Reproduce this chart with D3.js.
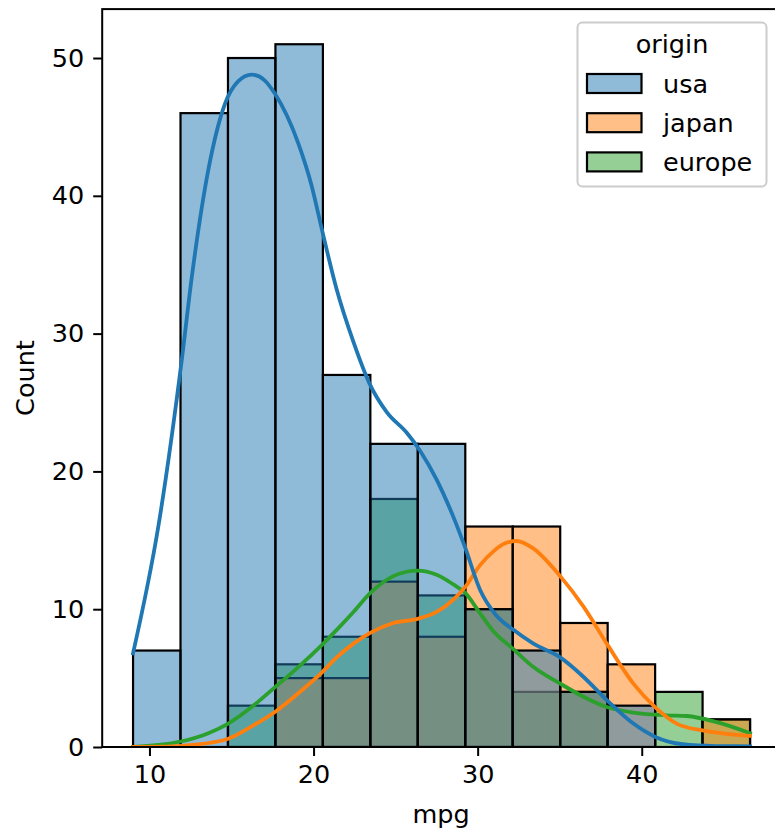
<!DOCTYPE html>
<html>
<head>
<meta charset="utf-8">
<script src="https://cdn.jsdelivr.net/npm/d3@7"></script>
<style>
  html, body { margin: 0; padding: 0; background: #fff; }
  svg text { font-family: "DejaVu Sans", sans-serif; fill: #000; }
</style>
</head>
<body>
<div id="chart"></div>
<script>
// ---------- data ----------
const binStart = 9.0;
const binEnd = 46.6;
const nBins = 13;
const seriesNames = ["usa", "japan", "europe"];
const seriesColors = ["#1f77b4", "#ff7f0e", "#2ca02c"];
const usaCounts    = [7, 46, 50, 51, 27, 22, 22, 10, 7, 4, 3, 0, 0];
const japanCounts  = [0, 0, 0, 5, 5, 12, 8, 16, 16, 9, 6, 0, 2];
const europeCounts = [0, 0, 3, 6, 8, 18, 11, 10, 4, 4, 0, 4, 2];
const xTicks = [10, 20, 30, 40];
const yTicks = [0, 10, 20, 30, 40, 50];
// KDE curves: [mpg, count]
const usaKde = [[9,6.8],[10.54,16.0],[11.97,28.1],[12.58,34.1],[13.59,41.9],[14.61,46.7],[15.4,48.3],[16.23,48.8],[17.0,48.4],[17.65,47.4],[19.07,43.8],[19.89,40.7],[20.5,37.6],[21.41,33.2],[22.43,29.4],[23.44,26.3],[24.46,24.3],[25.68,22.8],[26.49,21.5],[27.5,19.4],[28.52,16.7],[29.23,14.5],[30.15,11.4],[31.1,9.6],[32.18,8.5],[33.4,7.5],[35.03,6.5],[36.44,5.1],[37.87,3.4],[39.49,1.7],[40.8,0.75],[42.5,0.2],[44.5,0.07],[46.6,0.05]];
const japanKde = [[9,0.0],[11,0.02],[12.6,0.15],[14.8,0.6],[16.23,1.5],[17.71,2.6],[19.07,3.9],[20.5,5.4],[21.41,6.5],[22.43,7.5],[23.48,8.3],[24.86,9.0],[26.35,9.3],[27.5,9.8],[28.52,10.7],[29.23,11.6],[30.15,13.2],[30.96,14.2],[31.7,14.8],[32.38,14.95],[33.4,14.4],[35.03,12.4],[36.44,10.2],[37.87,7.5],[39.49,4.6],[40.81,2.9],[42.13,1.7],[43.69,1.2],[45.2,0.95],[46.6,0.8]];
const europeKde = [[9,0.0],[10.5,0.15],[11.9,0.4],[13.59,1.0],[14.8,1.7],[16.23,2.9],[17.71,4.4],[19.07,5.8],[20.5,7.4],[21.41,8.5],[22.43,9.8],[23.48,11.2],[24.86,12.4],[25.6,12.7],[26.35,12.8],[27.5,12.5],[28.52,11.8],[29.23,11.2],[30.15,9.7],[30.96,8.4],[32.18,7.1],[33.4,5.8],[35.03,4.6],[36.44,3.65],[37.87,2.9],[39.49,2.5],[41.5,2.3],[42.75,2.25],[44.57,1.8],[46.6,1.0]];

const countsBySeries = [usaCounts, japanCounts, europeCounts];
const kdeBySeries = [usaKde, japanKde, europeKde];

// ---------- layout ----------
const W = 775, H = 833;
const plotLeft = 102.2, plotRight = 780.9, plotTop = 9.1, plotBottom = 747;
const FS = 25.5;

const binW = (binEnd - binStart) / nBins;
const bins = d3.range(nBins).map(i => [binStart + i * binW, binStart + (i + 1) * binW]);
const xPad = (binEnd - binStart) * 0.05;
const yMax = d3.max(countsBySeries.flat()) * 1.05;

const x = d3.scaleLinear().domain([binStart - xPad, binEnd + xPad]).range([plotLeft, plotRight]);
const y = d3.scaleLinear().domain([0, yMax]).range([plotBottom, plotTop]);

const svg = d3.select("#chart").append("svg")
  .attr("width", W).attr("height", H)
  .attr("viewBox", `0 0 ${W} ${H}`);

svg.append("rect").attr("width", W).attr("height", H).attr("fill", "#fff");

svg.append("defs").append("clipPath").attr("id", "plotclip")
  .append("rect").attr("x", plotLeft).attr("y", plotTop)
  .attr("width", plotRight - plotLeft).attr("height", plotBottom - plotTop);

const plot = svg.append("g").attr("clip-path", "url(#plotclip)");

// bars: draw europe, japan, usa (usa on top)
const drawOrder = [2, 1, 0];
drawOrder.forEach(si => {
  const data = bins.map((b, i) => ({ x0: b[0], x1: b[1], c: countsBySeries[si][i] })).filter(d => d.c > 0);
  plot.append("g").selectAll("rect").data(data).join("rect")
    .attr("x", d => x(d.x0))
    .attr("y", d => y(d.c))
    .attr("width", d => x(d.x1) - x(d.x0))
    .attr("height", d => y(0) - y(d.c))
    .attr("fill", seriesColors[si])
    .attr("fill-opacity", 0.5)
    .attr("stroke", "#000")
    .attr("stroke-width", 2.2);
});

// kde lines
const line = d3.line().x(d => x(d[0])).y(d => y(d[1])).curve(d3.curveMonotoneX);
drawOrder.forEach(si => {
  plot.append("path").datum(kdeBySeries[si])
    .attr("d", line)
    .attr("fill", "none")
    .attr("stroke", seriesColors[si])
    .attr("stroke-width", 3.8)
    .attr("stroke-linecap", "square");
});

// frame
svg.append("rect").attr("x", plotLeft).attr("y", plotTop)
  .attr("width", plotRight - plotLeft).attr("height", plotBottom - plotTop)
  .attr("fill", "none").attr("stroke", "#000").attr("stroke-width", 2);

// axes
const xAxis = d3.axisBottom(x).tickValues(xTicks).tickSize(9).tickPadding(9).tickFormat(d3.format("d"));
const gx = svg.append("g").attr("transform", `translate(0,${plotBottom})`).call(xAxis);
gx.select(".domain").remove();
gx.selectAll(".tick line").attr("stroke", "#000").attr("stroke-width", 2);
gx.selectAll(".tick text").attr("font-size", FS).attr("font-family", "DejaVu Sans").attr("fill", "#000");

const yAxis = d3.axisLeft(y).tickValues(yTicks).tickSize(9).tickPadding(9).tickFormat(d3.format("d"));
const gy = svg.append("g").attr("transform", `translate(${plotLeft},0)`).call(yAxis);
gy.select(".domain").remove();
gy.selectAll(".tick line").attr("stroke", "#000").attr("stroke-width", 2);
gy.selectAll(".tick text").attr("font-size", FS).attr("font-family", "DejaVu Sans").attr("fill", "#000");

// axis labels
svg.append("text").attr("x", 441).attr("y", 823)
  .attr("text-anchor", "middle").attr("font-size", FS).text("mpg");
svg.append("text")
  .attr("transform", `translate(34,${(plotTop + plotBottom) / 2}) rotate(-90)`)
  .attr("text-anchor", "middle").attr("font-size", FS).text("Count");

// legend
const lg = svg.append("g");
lg.append("rect").attr("x", 577.5).attr("y", 22.5).attr("width", 189).attr("height", 164)
  .attr("rx", 5).attr("ry", 5)
  .attr("fill", "#fff").attr("fill-opacity", 0.8)
  .attr("stroke", "#ccc").attr("stroke-width", 2);
lg.append("text").attr("x", 672).attr("y", 53).attr("text-anchor", "middle")
  .attr("font-size", FS).text("origin");
seriesNames.forEach((name, i) => {
  const yy = 74 + i * 39.2;
  lg.append("rect").attr("x", 587).attr("y", yy).attr("width", 54.5).attr("height", 19)
    .attr("fill", seriesColors[i]).attr("fill-opacity", 0.5)
    .attr("stroke", "#000").attr("stroke-width", 2.2);
  lg.append("text").attr("x", 663).attr("y", yy + 18.5).attr("font-size", FS).text(name);
});
</script>
</body>
</html>
